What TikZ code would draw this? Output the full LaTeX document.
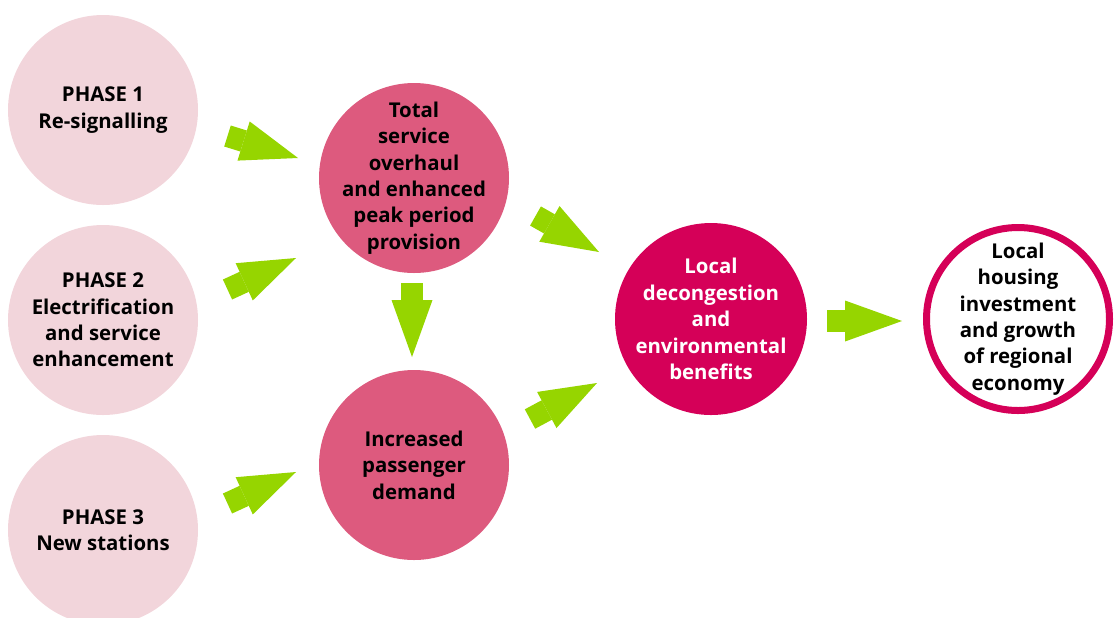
\documentclass[tikz,border=0pt]{standalone}
\usepackage{fontspec}
\setmainfont{Open Sans}
\usetikzlibrary{arrows.meta}

\definecolor{palepink}{HTML}{F2D5DB}
\definecolor{midpink}{HTML}{DD5A7E}
\definecolor{deeppink}{HTML}{D50058}
\definecolor{leaf}{HTML}{96D500}

\newcommand{\txt}{\fontsize{11.6}{15}\selectfont\bfseries}

\begin{document}
\begin{tikzpicture}[node distance = 4.2cm,
  words/.style = {align=center, font=\txt},
  phase/.style = {circle, fill=palepink, minimum size=3.8cm, label={[words]center:#1}},
  effect/.style = {circle, fill=midpink, minimum size=3.8cm, label={[words]center:#1}},
  benefit/.style = {circle, fill=deeppink, minimum size=3.84cm, label={[words, text=white]center:#1}},
  goal/.style = {circle, draw=deeppink, line width=0.14cm, minimum size=3.66cm, label={[words]center:#1}},
  fat/.style = {draw=leaf, line width=0.44cm, -{Triangle[length=1.14cm, width=0.82cm, line width=0pt]}}]
  \useasboundingbox (0, 0) rectangle (22.28, -12.34);

  \node[phase={PHASE 1\\Re-signalling}] (p1) at (2.06, -2.2) {};
  \node[phase={PHASE 2\\Electrification\\and service\\enhancement}, below of = p1] (p2) {};
  \node[phase={PHASE 3\\New stations}, below of = p2] (p3) {};
  \node[effect={Total\\service\\overhaul\\and enhanced\\peak period\\provision}] (tot) at (8.28, -3.56) {};
  \node[effect={Increased\\passenger\\demand}, below of = tot, node distance = 5.74cm] (dem) {};
  \node[benefit={Local\\decongestion\\and\\environmental\\benefits}] (loc) at (14.22, -6.38) {};
  \node[goal={Local\\housing\\investment\\and growth\\of regional\\economy}] (eco) at (20.36, -6.38) {};

  \coordinate (a1) at (4.55, -2.72);  \coordinate (b1) at (5.96, -3.16);
  \coordinate (a2) at (4.55, -5.79);  \coordinate (b2) at (5.92, -5.16);
  \coordinate (a3) at (4.55, -10.07); \coordinate (b3) at (5.92, -9.44);
  \coordinate (a4) at (10.71, -4.32); \coordinate (b4) at (11.98, -5.04);
  \coordinate (a5) at (10.6, -8.38);  \coordinate (b5) at (11.94, -7.66);
  \coordinate (a6) at (8.24, -5.66);  \coordinate (b6) at (8.24, -7.14);
  \coordinate (a7) at (16.54, -6.42); \coordinate (b7) at (18.04, -6.42);

  \draw[fat] (a1) to (b1);
  \draw[fat] (a2) to (b2);
  \draw[fat] (a3) to (b3);
  \draw[fat] (a6) to (b6);
  \draw[fat] (a4) to (b4);
  \draw[fat] (a5) to (b5);
  \draw[fat] (a7) to (b7);
\end{tikzpicture}
\end{document}
